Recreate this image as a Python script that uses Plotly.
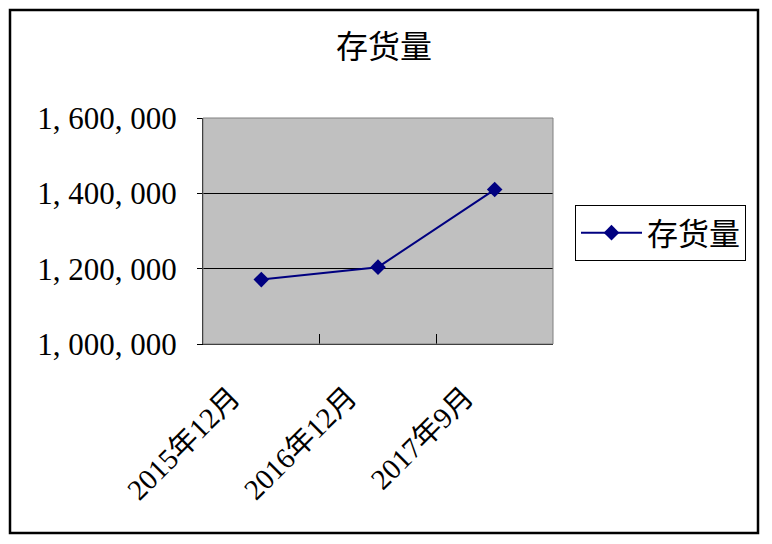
import re
import plotly.graph_objects as go

# ===============================
# Datos
# ===============================
periodos = ["2015年12月", "2016年12月", "2017年9月"]
existencias = [1171000, 1204000, 1410000]
y_ticks = [1000000, 1200000, 1400000, 1600000]
y_textos = ["1, 000, 000", "1, 200, 000", "1, 400, 000", "1, 600, 000"]
nombre_serie = "存货量"
titulo = "存货量"

# ===============================
# Geometría (px de pantalla; el body de la página añade 8 px)
# ===============================
OFF = 8
W, H = 772 - OFF, 544 - OFF
L, T = 203 - OFF, 118 - OFF
R = W - (553 - OFF)
B = H - (344 - OFF)
pw = W - L - R
ph = H - T - B


def px_x(x):
    return (x - OFF - L) / pw


def px_y(y):
    return (H - B - (y - OFF)) / ph


fuente = "'Liberation Serif', 'Noto Sans CJK SC', serif"

fig = go.Figure()

fig.add_trace(go.Scatter(
    x=periodos,
    y=existencias,
    mode="lines+markers",
    name=nombre_serie,
    line=dict(color="#000080", width=2),
    marker=dict(symbol="diamond", size=12, color="#000080"),
))

# etiquetas del eje x giradas (ancladas por el extremo superior derecho)
# los dígitos van en su propio span para que salgan con letra serif
for p in periodos:
    texto = re.sub(r"(\d+)", r"<span style='font-family:Liberation Serif'>\1</span>", p)
    fig.add_annotation(
        x=p, xref="x", y=0, yref="paper",
        text=texto, textangle=-45, showarrow=False,
        xanchor="right", yanchor="top",
        xshift=-12, yshift=-34,
        font=dict(family=fuente, size=29, color="black"),
    )

fig.update_layout(
    width=W,
    height=H,
    margin=dict(l=L, r=R, t=T, b=B, autoexpand=False),
    paper_bgcolor="white",
    plot_bgcolor="#C0C0C0",
    font=dict(family=fuente, size=30, color="black"),
    title=dict(
        text=titulo,
        x=(384 - OFF) / W,
        xanchor="center",
        y=1 - (47 - OFF) / H,
        yanchor="middle",
        font=dict(family=fuente, size=32, color="black"),
    ),
    showlegend=True,
    legend=dict(
        x=px_x(575),
        y=px_y(233),
        xanchor="left",
        yanchor="middle",
        bgcolor="white",
        bordercolor="black",
        borderwidth=1,
        font=dict(family=fuente, size=31, color="black"),
        itemwidth=61,
    ),
    xaxis=dict(
        type="category",
        range=[-0.5, 2.5],
        showline=True,
        linecolor="black",
        linewidth=1,
        showgrid=False,
        ticks="inside",
        ticklen=10,
        tickcolor="black",
        tickson="boundaries",
        showticklabels=False,
        zeroline=False,
        fixedrange=True,
    ),
    yaxis=dict(
        range=[1000000, 1600000],
        tickvals=y_ticks,
        ticktext=y_textos,
        showline=True,
        linecolor="black",
        linewidth=1,
        showgrid=True,
        gridcolor="black",
        gridwidth=1,
        ticks="outside",
        ticklen=5,
        tickcolor="black",
        ticklabelstandoff=14,
        tickfont=dict(family=fuente, size=31, color="black"),
        zeroline=False,
        fixedrange=True,
    ),
    shapes=[
        # borde del área de trazado
        dict(type="rect", xref="paper", yref="paper", x0=0, y0=0, x1=1, y1=1,
             line=dict(color="#808080", width=1), layer="above"),
        # borde del gráfico
        dict(type="rect", xref="paper", yref="paper",
             x0=px_x(10), x1=px_x(758), y0=px_y(10), y1=px_y(533),
             line=dict(color="black", width=2.5)),
    ],
)

fig.write_html("out.html")
